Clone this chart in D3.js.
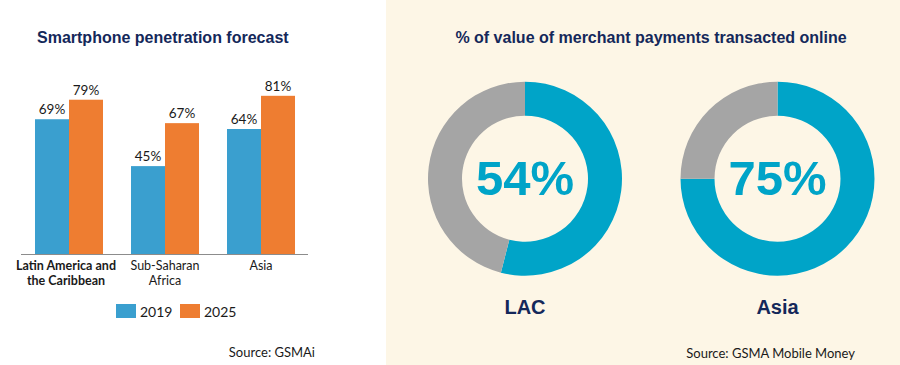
<!DOCTYPE html>
<html>
<head>
<meta charset="utf-8">
<script src="https://cdn.jsdelivr.net/npm/d3@7/dist/d3.min.js"></script>
<style>
  html, body { margin: 0; padding: 0; background: #fff; }
  svg { display: block; }
  .title { font-family: "Liberation Sans", Arial, sans-serif; font-weight: bold; font-size: 16px; fill: #14285a; }
  .lbl { font-family: Lato, "Open Sans", sans-serif; fill: #1a1a1a; }
</style>
</head>
<body>
<div id="chart"></div>
<script>
// Left panel: smartphone penetration forecast
const regions = ['Latin America and the Caribbean', 'Sub-Saharan Africa', 'Asia'];
const regionLines = [['Latin America and', 'the Caribbean'], ['Sub-Saharan', 'Africa'], ['Asia']];
const years = ['2019', '2025'];
const pen2019 = [69, 45, 64];
const pen2025 = [79, 67, 81];

// Right panel: % of value of merchant payments transacted online
const donutLabels = ['LAC', 'Asia'];
const onlineShare = [54, 75];

const W = 900, H = 365;
const svg = d3.select('#chart').append('svg').attr('width', W).attr('height', H);

// cream background behind the donuts
svg.append('rect').attr('x', 386).attr('y', 0).attr('width', W - 386).attr('height', H).attr('fill', '#fdf6e6');

// ---- bar chart ----
const baseY = 254;
const x0 = d3.scaleBand().domain(regions).range([21, 309]).paddingInner(0.2917).paddingOuter(0.1458);
const x1 = d3.scaleBand().domain(years).range([0, x0.bandwidth()]);
const y = d3.scaleLinear().domain([0, 100]).range([baseY, baseY - 195.3]);
const colour = d3.scaleOrdinal().domain(years).range(['#3a9fcf', '#ee7d31']);

svg.append('text').attr('class', 'title').attr('x', 37).attr('y', 43).text('Smartphone penetration forecast');

const rows = regions.map((r, i) => ({ region: r, values: [pen2019[i], pen2025[i]] }));
const grp = svg.selectAll('g.region').data(rows).join('g')
  .attr('class', 'region')
  .attr('transform', (d) => `translate(${x0(d.region)},0)`);

grp.selectAll('rect').data((d) => d.values.map((v, j) => ({ year: years[j], v }))).join('rect')
  .attr('x', (d) => x1(d.year))
  .attr('y', (d) => y(d.v))
  .attr('width', x1.bandwidth())
  .attr('height', (d) => y(0) - y(d.v))
  .attr('fill', (d) => colour(d.year));

grp.selectAll('text.val').data((d) => d.values.map((v, j) => ({ year: years[j], v }))).join('text')
  .attr('class', 'lbl val')
  .attr('x', (d) => x1(d.year) + x1.bandwidth() / 2)
  .attr('y', (d) => y(d.v) - 5)
  .attr('text-anchor', 'middle')
  .attr('font-size', 13.5)
  .text((d) => `${d.v}%`);

// axis baseline
svg.append('line').attr('x1', 21).attr('x2', 308).attr('y1', baseY + 0.5).attr('y2', baseY + 0.5)
  .attr('stroke', '#8c8c8c').attr('stroke-width', 1);

// category labels (first one is bold in the original)
regions.forEach((r, i) => {
  const t = svg.append('text').attr('class', 'lbl')
    .attr('x', x0(r) + x0.bandwidth() / 2 - (i === 0 ? 3 : 0))
    .attr('y', 270)
    .attr('text-anchor', 'middle')
    .attr('font-size', 12.5)
    .attr('font-weight', i === 0 ? 'bold' : 'normal');
  regionLines[i].forEach((line, k) => {
    t.append('tspan').attr('x', x0(r) + x0.bandwidth() / 2 - (i === 0 ? 3 : 0)).attr('dy', k === 0 ? 0 : 14.5).text(line);
  });
});

// legend
const legend = svg.append('g').attr('transform', 'translate(116,304)');
years.forEach((yr, i) => {
  const lx = i * 64;
  legend.append('rect').attr('x', lx).attr('y', 0).attr('width', 20).attr('height', 14).attr('fill', colour(yr));
  legend.append('text').attr('class', 'lbl').attr('x', lx + 24).attr('y', 13).attr('font-size', 14).text(yr);
});

svg.append('text').attr('class', 'lbl').attr('x', 315).attr('y', 357).attr('text-anchor', 'end')
  .attr('font-size', 13).text('Source: GSMAi');

// ---- donuts ----
svg.append('text').attr('class', 'title').attr('x', 651).attr('y', 43).attr('text-anchor', 'middle')
  .text('% of value of merchant payments transacted online');

const donutX = d3.scalePoint().domain(donutLabels).range([525, 777.5]);
const cy = 178.7;
const pie = d3.pie().sort(null).value((d) => d.v);
const arc = d3.arc().innerRadius(63).outerRadius(97);

donutLabels.forEach((name, i) => {
  const g = svg.append('g').attr('transform', `translate(${donutX(name)},${cy})`);
  const parts = [{ k: 'online', v: onlineShare[i] }, { k: 'other', v: 100 - onlineShare[i] }];
  g.selectAll('path').data(pie(parts)).join('path')
    .attr('d', arc)
    .attr('fill', (d) => (d.data.k === 'online' ? '#00a4c8' : '#a5a5a5'));
  g.append('text')
    .attr('x', 0).attr('y', 16.5)
    .attr('text-anchor', 'middle')
    .attr('font-family', '"Liberation Sans", Arial, sans-serif')
    .attr('font-weight', 'bold')
    .attr('font-size', 49)
    .attr('fill', '#00a4c8')
    .text(`${onlineShare[i]}%`);
  g.append('text')
    .attr('x', 0).attr('y', 314 - cy)
    .attr('text-anchor', 'middle')
    .attr('font-family', '"Liberation Sans", Arial, sans-serif')
    .attr('font-weight', 'bold')
    .attr('font-size', 20)
    .attr('fill', '#14285a')
    .text(name);
});

svg.append('text').attr('class', 'lbl').attr('x', 855).attr('y', 358).attr('text-anchor', 'end')
  .attr('font-size', 13).text('Source: GSMA Mobile Money');
</script>
</body>
</html>
